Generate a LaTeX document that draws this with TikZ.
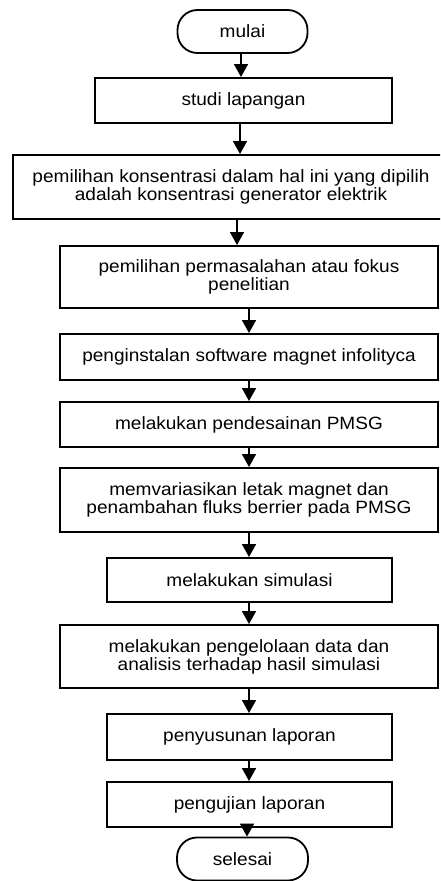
\documentclass[tikz,border=0pt]{standalone}
\usepackage{fontspec}
\setmainfont[FakeStretch=1.07]{Liberation Sans}
\usetikzlibrary{arrows.meta}
\begin{document}
\begin{tikzpicture}[x=1pt,y=-1pt,
  every node/.style={font=\fontsize{17.8}{18}\selectfont, inner sep=0pt, align=center},
  box/.style={draw=black, line width=2pt, fill=white, rectangle},
  term/.style={draw=black, line width=1.8pt, fill=white, rectangle, rounded corners=20pt},
  arr/.style={line width=1.8pt, -{Triangle[length=13pt,width=14pt]}}
]
\useasboundingbox (0,0) rectangle (440,881);
\clip (0,0) rectangle (440,881);
\fill[white] (0,0) rectangle (440,881);

\node[term, minimum width=130pt, minimum height=43pt] (n0) at (242.5,31.5) {mulai};
\node[box, minimum width=297pt, minimum height=45pt] (n1) at (243.5,100.5) {studi lapangan};
\node[box, minimum width=436pt, minimum height=64pt] (n2) at (231,187) {pemilihan konsentrasi dalam hal ini yang dipilih\\adalah konsentrasi generator elektrik};
\node[box, minimum width=378pt, minimum height=62pt] (n3) at (249,277) {pemilihan permasalahan atau fokus\\penelitian};
\node[box, minimum width=378pt, minimum height=46pt] (n4) at (249,357) {penginstalan software magnet infolityca};
\node[box, minimum width=378pt, minimum height=45pt] (n5) at (249,424.5) {melakukan pendesainan PMSG};
\node[box, minimum width=378pt, minimum height=64pt] (n6) at (249,500) {memvariasikan letak magnet dan\\penambahan fluks berrier pada PMSG};
\node[box, minimum width=285pt, minimum height=44pt] (n7) at (249.5,580) {melakukan simulasi};
\node[box, minimum width=378pt, minimum height=63pt] (n8) at (249,656.5) {melakukan pengelolaan data dan\\analisis terhadap hasil simulasi};
\node[box, minimum width=285pt, minimum height=46pt] (n9) at (249.5,737) {penyusunan laporan};
\node[box, minimum width=285pt, minimum height=45pt] (n10) at (249.5,804.5) {pengujian laporan};
\node[term, minimum width=131pt, minimum height=43pt] (n11) at (242.5,859) {selesai};

\draw[arr] (n0.south -| 241,0) -- (n1.north -| 241,0);
\draw[arr] (n1.south -| 240,0) -- (n2.north -| 240,0);
\draw[arr] (n2.south -| 237,0) -- (n3.north -| 237,0);
\draw[arr] (n3.south -| 249,0) -- (n4.north -| 249,0);
\draw[arr] (n4.south -| 249,0) -- (n5.north -| 249,0);
\draw[arr] (n5.south -| 249,0) -- (n6.north -| 249,0);
\draw[arr] (n6.south -| 249,0) -- (n7.north -| 249,0);
\draw[arr] (n7.south -| 249,0) -- (n8.north -| 249,0);
\draw[arr] (n8.south -| 249,0) -- (n9.north -| 249,0);
\draw[arr] (n9.south -| 249,0) -- (n10.north -| 249,0);
\draw[arr] (n10.south -| 247,0) -- (n11.north -| 247,0);
\end{tikzpicture}
\end{document}
